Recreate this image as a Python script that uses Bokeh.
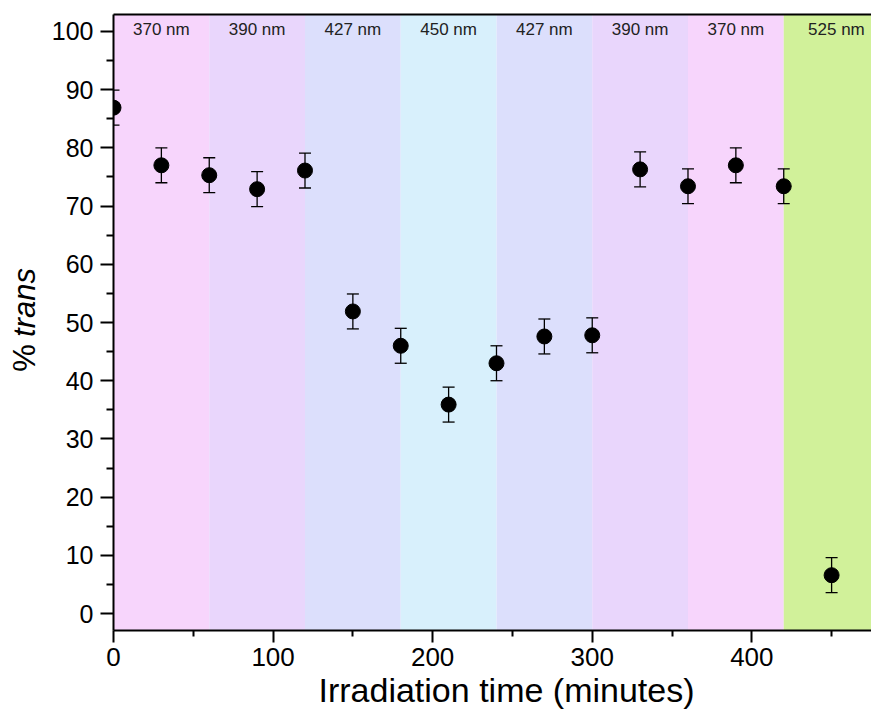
import math
from bokeh.plotting import figure
from bokeh.layouts import row
from bokeh.models import (ColumnDataSource, Whisker, LinearAxis, FixedTicker,
                          Label, BoxAnnotation, Range1d, Title)
from bokeh.embed import file_html
from bokeh.resources import INLINE

# ---- data ----
time_min = [0, 30, 60, 90, 120, 150, 180, 210, 240, 270, 300, 330, 360, 390, 420, 450]
pct_trans = [86.9, 77.0, 75.3, 72.9, 76.1, 51.9, 46.0, 35.9, 43.0, 47.6, 47.8, 76.3, 73.4, 77.0, 73.4, 6.6]
err = [3.0] * 16

band_start = [0, 60, 120, 180, 240, 300, 360, 420]
band_end = [60, 120, 180, 240, 300, 360, 420, 480]
band_label = ["370 nm", "390 nm", "427 nm", "450 nm", "427 nm", "390 nm", "370 nm", "525 nm"]
band_label_x = [30, 90, 150, 210, 270, 330, 390, 453]
band_color = ["#F7D5FC", "#E9D6FC", "#DCDFFC", "#D8F0FC", "#DCDFFC", "#E9D6FC", "#F7D5FC", "#D1F19A"]

x_ticks = [0, 100, 200, 300, 400]
y_ticks = [0, 10, 20, 30, 40, 50, 60, 70, 80, 90, 100]

FONT = "Liberation Sans"
H = 726
LW = 46  # width of the narrow strip on the left that holds the y title

# ---- narrow strip holding the y-axis title ("% trans", with italic "trans") ----
lab = figure(width=LW, height=H, output_backend="svg", toolbar_location=None,
             x_range=Range1d(0, LW), y_range=Range1d(0, H),
             x_axis_type=None, y_axis_type=None,
             min_border_left=0, min_border_right=0, min_border_top=0, min_border_bottom=0)
lab.outline_line_color = None
lab.grid.visible = False
lab.add_layout(Label(x=24, y=305, text="%", angle=math.pi / 2, text_align="left",
                     text_baseline="middle", text_font=FONT, text_font_size="31px",
                     text_color="black"))
lab.add_layout(Label(x=24, y=346, text="trans", angle=math.pi / 2, text_align="left",
                     text_baseline="middle", text_font=FONT, text_font_size="31px",
                     text_font_style="italic", text_color="black"))

# ---- main plot ----
p = figure(width=871 - LW, height=H, output_backend="svg", toolbar_location=None,
           x_range=Range1d(0, 475), y_range=Range1d(-2.9, 102.9),
           min_border_left=113 - LW, min_border_right=0, min_border_top=14, min_border_bottom=96)
p.outline_line_color = None
p.grid.visible = False
p.background_fill_color = "white"

for s, e, c in zip(band_start, band_end, band_color):
    p.add_layout(BoxAnnotation(left=s, right=e, fill_color=c, fill_alpha=1.0,
                               line_color=None, level="underlay"))

for lx, lt in zip(band_label_x, band_label):
    p.add_layout(Label(x=lx, y=100.4, text=lt, text_align="center", text_baseline="middle",
                       text_font=FONT, text_font_size="17px", text_color="#222222"))

src = ColumnDataSource(dict(x=time_min, y=pct_trans,
                            lo=[v - e for v, e in zip(pct_trans, err)],
                            hi=[v + e for v, e in zip(pct_trans, err)]))
w = Whisker(source=src, base="x", lower="lo", upper="hi", line_color="black", line_width=1.3)
w.upper_head.size = 12
w.lower_head.size = 12
w.upper_head.line_width = 1.3
w.lower_head.line_width = 1.3
p.add_layout(w)
p.scatter("x", "y", source=src, size=15, color="black")

for ax in (p.xaxis[0], p.yaxis[0]):
    ax.axis_line_width = 2
    ax.major_tick_line_width = 2
    ax.minor_tick_line_width = 2
    ax.major_label_text_font = FONT
    ax.major_label_text_color = "black"

p.xaxis.ticker = FixedTicker(ticks=x_ticks, minor_ticks=[50, 150, 250, 350, 450])
p.xaxis.major_label_text_font_size = "26px"
p.xaxis.major_tick_out = 12
p.xaxis.major_tick_in = 0
p.xaxis.minor_tick_out = 6
p.xaxis.minor_tick_in = 0
p.xaxis.major_label_standoff = 5

# invisible spacer below the x axis, then the x-axis title as a bottom Title
spacer = LinearAxis(ticker=FixedTicker(ticks=[]), axis_line_color=None,
                    major_tick_line_color=None, minor_tick_line_color=None,
                    major_tick_out=15, minor_tick_out=0, major_tick_in=0, minor_tick_in=0,
                    major_label_text_font_size="0px", major_label_standoff=0)
p.add_layout(spacer, "below")
p.add_layout(Title(text="Irradiation time (minutes)", align="left", offset=205,
                   text_font=FONT, text_font_size="34px", text_font_style="normal",
                   text_color="black", standoff=0), "below")

p.yaxis.ticker = FixedTicker(ticks=y_ticks, minor_ticks=[5, 15, 25, 35, 45, 55, 65, 75, 85, 95])
p.yaxis.major_label_text_font_size = "25px"
p.yaxis.major_tick_out = 13
p.yaxis.major_tick_in = 0
p.yaxis.minor_tick_out = 7
p.yaxis.minor_tick_in = 0
p.yaxis.major_label_standoff = 7

top = LinearAxis(ticker=FixedTicker(ticks=[]), axis_line_width=2,
                 major_label_text_font_size="0px", major_tick_line_color=None,
                 minor_tick_line_color=None, major_label_standoff=0)
p.add_layout(top, "above")

layout = row(lab, p, spacing=0)
open("out.html", "w").write(file_html(layout, INLINE))
